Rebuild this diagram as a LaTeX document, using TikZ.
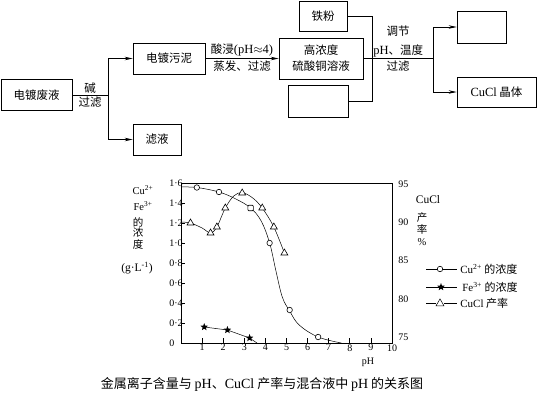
\documentclass[tikz,border=0pt]{standalone}
\usepackage{fontspec}
\setmainfont{Liberation Serif}
\newfontfamily\cjk{Noto Sans CJK SC}
\usetikzlibrary{arrows.meta,positioning,shapes.geometric}

\begin{document}
\begin{tikzpicture}[
  x=1pt, y=-1pt, line width=0.7pt,
  box/.style={draw, minimum width=#1, minimum height=31pt, inner sep=0pt, align=center,
    font=\fontsize{11.5}{16}\selectfont\cjk},
  box/.default=72pt,
  lbl/.style={inner sep=1.5pt, align=center, font=\fontsize{11.5}{19}\selectfont\cjk},
  arr/.style={-{Stealth[length=8pt,width=3.5pt]}},
  tick/.style={inner sep=1pt, font=\fontsize{10}{11}\selectfont},
  axl/.style={inner sep=0pt, font=\fontsize{10.5}{11}\selectfont\cjk},
  leg/.style={inner sep=0pt, anchor=west, font=\fontsize{11}{12}\selectfont\cjk},
  cir/.style={circle, draw, fill=white, line width=0.6pt, minimum size=5.5pt, inner sep=0pt},
  sqm/.style={rectangle, rounded corners=1pt, draw, fill=white, line width=0.6pt, minimum size=5.5pt, inner sep=0pt},
  tri/.style={regular polygon, regular polygon sides=3, draw, fill=white, line width=0.6pt, minimum size=8pt, inner sep=0pt},
  starm/.style={star, star points=5, star point ratio=2.4, fill, minimum size=8pt, inner sep=0pt}
]
\useasboundingbox (0,0) rectangle (537,418);

% flow chart
\node[box=71pt] (waste) at (36.5,95) {电镀废液};
\node[box] (sludge) at (169,58.5) {电镀污泥};
\node[box=48pt] (filtrate) at (157,139.5) {滤液};
\node[box=84pt, minimum height=41pt] (cuso4) at (321,58.5) {高浓度\\硫酸铜溶液};
\node[box=48pt, minimum height=30pt] (iron) at (323,16) {铁粉};
\node[box=60pt, minimum height=32pt] (blank1) at (318,101) {};
\node[box=49pt, minimum height=32pt] (blank2) at (481.5,27) {};
\node[box=79pt, minimum height=30pt] (cucl) at (496.5,92) {{\rmfamily\fontsize{12.5}{14}\selectfont CuCl} 晶体};

\coordinate (j1) at (108,95);
\coordinate (j2) at (372,58.5);
\coordinate (j3) at (433,58.5);

\draw (waste) -- node[lbl, above] (lbase) {碱} node[lbl, below] (lfilt) {过滤} (j1);
\draw (j1|-sludge) -- (j1|-filtrate);
\draw[arr] (j1|-sludge) -- (sludge);
\draw[arr] (j1|-filtrate) -- (filtrate);
\draw[arr] (sludge) -- node[lbl, above] (lacid) {酸浸{\rmfamily\fontsize{12.5}{14}\selectfont(pH$\approx$4)}}
  node[lbl, below] (levap) {蒸发、过滤} (cuso4);
\draw (iron) -- (iron-|j2) -- (blank1-|j2) -- (blank1);
\draw (cuso4) -- node[lbl, above, inner sep=0.5pt] (ladj) {调节\\{\rmfamily\fontsize{12.5}{14}\selectfont pH}、温度}
  node[lbl, below] (lfilt2) {过滤} (j3);
\draw (j3|-blank2) -- (j3|-cucl);
\draw[arr] (j3|-blank2) -- (blank2);
\draw[arr] (j3|-cucl) -- (cucl);

% chart
\begin{scope}[shift={(181,343)}, x=21.1pt, y=100pt]
  \draw (0,0) rectangle (10,1.6);
  \foreach \t in {0.2,0.4,0.6,0.8,1.0,1.2,1.4} \draw (0,\t) -- ++(4pt,0);
  \foreach \x in {1,...,9} \draw (\x,0) -- ++(0,5pt);
  \foreach \t/\s in {0/0,0.2/0·2,0.4/0·4,0.6/0·6,0.8/0·8,1.0/1·0,1.2/1·2,1.4/1·4,1.6/1·6}
    \node[tick, anchor=west] at ([xshift=-13pt]0,\t) {\s};
  \foreach \x in {1,...,10} \node[tick, anchor=north] at (\x,0) {\x};
  \foreach \v in {75,80,...,95}
    \node[tick, anchor=west] at ([xshift=5pt]10,{0.06+(\v-75)*0.0765}) {\v};
  % Cu2+
  \draw[line width=0.5pt] plot[smooth, tension=0.6] coordinates {(0,1.56) (0.75,1.555) (1.8,1.51)
    (2.6,1.44) (3.3,1.35) (3.8,1.22) (4.2,1.0) (4.5,0.72) (4.8,0.46) (5.15,0.32)
    (5.6,0.18) (6.5,0.06) (7.6,0)};
  \foreach \x/\y [count=\i] in {0.75/1.555,1.8/1.51,4.2/1.0,5.15/0.33,6.5/0.06}
    \node[cir] (cu\i) at (\x,\y) {};
  \node[sqm] (cu0) at (3.3,1.35) {};
  % Fe3+
  \draw[line width=0.5pt] (1.1,0.16) -- (2.2,0.13) -- (3.25,0.05) -- (3.6,0);
  \foreach \x/\y [count=\i] in {1.1/0.16,2.2/0.13,3.25/0.05}
    \node[starm] (fe\i) at (\x,\y) {};
  % CuCl yield
  \draw[line width=0.5pt] plot[smooth, tension=0.55] coordinates {(0,1.21) (0.45,1.20) (1.0,1.15)
    (1.4,1.10) (1.7,1.16) (2.1,1.35) (2.5,1.47) (2.9,1.505) (3.4,1.45) (3.85,1.35)
    (4.4,1.16) (4.9,0.90)};
  \foreach \x/\y [count=\i] in {0.45/1.20,1.4/1.10,1.7/1.16,2.1/1.35,2.9/1.50,3.85/1.35,4.4/1.16,4.9/0.90}
    \node[tri] (yl\i) at (\x,\y) {};
\end{scope}

% axis titles
\node[axl] (cu) at (143,190) {\rmfamily Cu\textsuperscript{2+}};
\node[axl] (fe) at (143,206) {\rmfamily Fe\textsuperscript{3+}};
\node[axl] (de) at (138,222) {的};
\node[axl] (nong) at (138,233) {浓};
\node[axl] (du) at (138,244) {度};
\node[axl] (unit) at (137,268) {\rmfamily\fontsize{11.5}{12}\selectfont (g·L\textsuperscript{-1})};
\node[axl] (cuclt) at (428,200) {\rmfamily\fontsize{11.5}{12}\selectfont CuCl};
\node[axl] (chan) at (422,218) {产};
\node[axl] (lv) at (422,229) {率};
\node[axl] (pct) at (422,242) {\rmfamily \%};
\node[tick] (ph) at (368,362) {pH};

% legend
\draw[line width=0.5pt] (426,269) -- (457,269);
\node[cir] (lg1) at (440,269) {};
\node[leg] (lt1) at (460,269) {{\rmfamily Cu\textsuperscript{2+}} 的浓度};
\draw[line width=0.5pt] (426,287) -- (457,287);
\node[starm] (lg2) at (441,287) {};
\node[leg] (lt2) at (462,287) {{\rmfamily Fe\textsuperscript{3+}} 的浓度};
\draw[line width=0.5pt] (426,303) -- (436,303) (444,303) -- (457,303);
\node[tri, draw=none, fill=none] (lg3) at (440,303.5) {};
\draw[line width=0.5pt] (lg3.corner 1) -- (lg3.corner 2) -- (lg3.corner 3) -- cycle;
\node[leg] (lt3) at (460,303) {{\rmfamily CuCl} 产率};

\node[font=\fontsize{13}{15}\selectfont\cjk, inner sep=0pt] (caption) at (262,384)
  {金属离子含量与 {\rmfamily\fontsize{14}{15}\selectfont pH}、{\rmfamily\fontsize{14}{15}\selectfont CuCl} 产率与混合液中 {\rmfamily\fontsize{14}{15}\selectfont pH} 的关系图};
\end{tikzpicture}
\end{document}
